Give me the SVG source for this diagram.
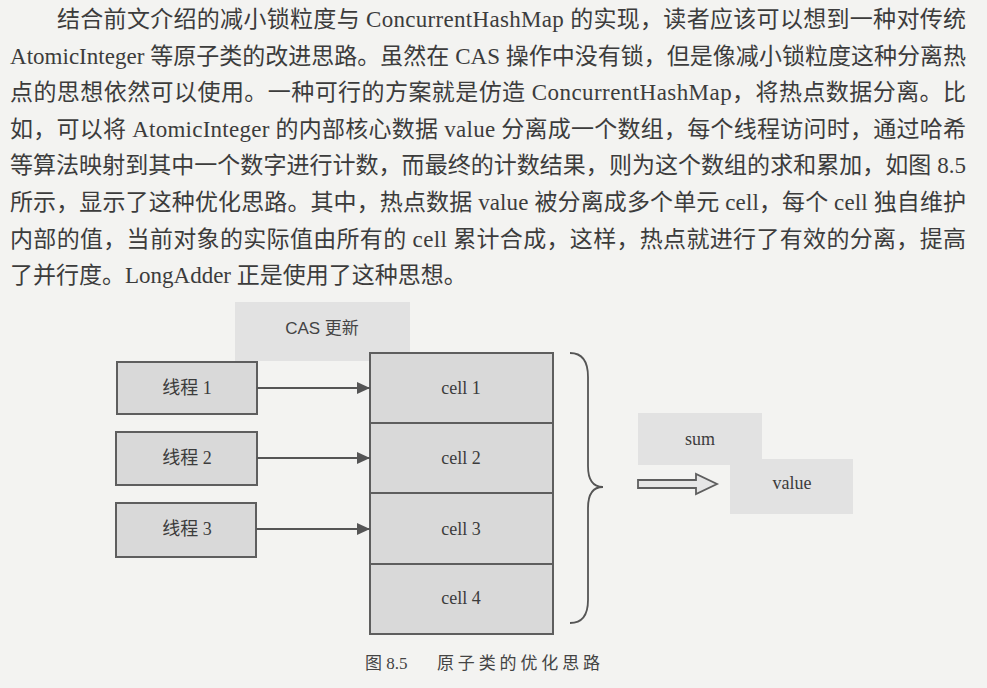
<svg xmlns="http://www.w3.org/2000/svg" width="987" height="688" viewBox="0 0 987 688">
<defs>
<style>
.para{font-family:"Liberation Serif","Noto Sans CJK SC",serif;font-size:23px;fill:#3c3c3c}
.lbl{font-family:"Liberation Serif","Noto Sans CJK SC",serif;font-size:18px;fill:#3c3c3c;text-anchor:middle}
.sans{font-family:"Liberation Sans","Noto Sans CJK SC",sans-serif;font-size:17px;fill:#444;text-anchor:middle}
.cap{font-family:"Liberation Serif","Noto Sans CJK SC",serif;font-size:17px;fill:#444}
.box{fill:#d9d9d9;stroke:#5e5e5e;stroke-width:2}
.soft{fill:#e2e2e2}
.conn{stroke:#555;stroke-width:1.8;fill:none}
</style>
<marker id="tri" viewBox="0 0 13 12" refX="13" refY="6" markerWidth="13" markerHeight="12" markerUnits="userSpaceOnUse" orient="auto">
<path d="M0,0 L13,6 L0,12 Z" fill="#555"/>
</marker>
</defs>
<rect x="0" y="0" width="987" height="688" fill="#f3f3f1"/>

<g id="paragraph">
<text class="para" x="57" y="27" textLength="909" lengthAdjust="spacing">结合前文介绍的减小锁粒度与 ConcurrentHashMap 的实现，读者应该可以想到一种对传统</text>
<text class="para" x="10" y="63.6" textLength="956" lengthAdjust="spacing">AtomicInteger 等原子类的改进思路。虽然在 CAS 操作中没有锁，但是像减小锁粒度这种分离热</text>
<text class="para" x="10" y="100.2" textLength="956" lengthAdjust="spacing">点的思想依然可以使用。一种可行的方案就是仿造 ConcurrentHashMap，将热点数据分离。比</text>
<text class="para" x="10" y="136.8" textLength="956" lengthAdjust="spacing">如，可以将 AtomicInteger 的内部核心数据 value 分离成一个数组，每个线程访问时，通过哈希</text>
<text class="para" x="10" y="173.4" textLength="956" lengthAdjust="spacing">等算法映射到其中一个数字进行计数，而最终的计数结果，则为这个数组的求和累加，如图 8.5</text>
<text class="para" x="10" y="210" textLength="956" lengthAdjust="spacing">所示，显示了这种优化思路。其中，热点数据 value 被分离成多个单元 cell，每个 cell 独自维护</text>
<text class="para" x="10" y="246.6" textLength="956" lengthAdjust="spacing">内部的值，当前对象的实际值由所有的 cell 累计合成，这样，热点就进行了有效的分离，提高</text>
<text class="para" x="10" y="283.2">了并行度。LongAdder 正是使用了这种思想。</text>
</g>

<g id="cas-label">
<rect class="soft" x="235" y="302" width="175" height="59"/>
<text class="sans" x="322" y="334">CAS 更新</text>
</g>

<g id="thread1">
<rect class="box" x="117" y="362" width="140" height="52"/>
<text class="lbl" x="187" y="394">线程 1</text>
</g>
<g id="thread2">
<rect class="box" x="116" y="432" width="141" height="53"/>
<text class="lbl" x="187" y="464">线程 2</text>
</g>
<g id="thread3">
<rect class="box" x="116" y="503" width="140" height="54"/>
<text class="lbl" x="187" y="535">线程 3</text>
</g>

<g id="cell1">
<rect class="box" x="370" y="353" width="183" height="70"/>
<text class="lbl" x="461" y="394">cell 1</text>
</g>
<g id="cell2">
<rect class="box" x="370" y="423" width="183" height="70"/>
<text class="lbl" x="461" y="464">cell 2</text>
</g>
<g id="cell3">
<rect class="box" x="370" y="493" width="183" height="71"/>
<text class="lbl" x="461" y="535">cell 3</text>
</g>
<g id="cell4">
<rect class="box" x="370" y="564" width="183" height="70"/>
<text class="lbl" x="461" y="604">cell 4</text>
</g>

<g id="value">
<rect class="soft" x="730" y="459" width="123" height="55"/>
<text class="lbl" x="792" y="489">value</text>
</g>
<g id="sum">
<rect class="soft" x="638" y="413" width="124" height="52"/>
<text class="lbl" x="700" y="445">sum</text>
</g>

<g id="connectors">
<line class="conn" x1="257" y1="388" x2="370" y2="388" marker-end="url(#tri)"/>
<line class="conn" x1="257" y1="458" x2="370" y2="458" marker-end="url(#tri)"/>
<line class="conn" x1="256" y1="529" x2="370" y2="529" marker-end="url(#tri)"/>
<path class="conn" d="M570,353 Q588,353 588,377 L588,466 Q588,487 603,487 Q588,487 588,508 L588,600 Q588,623 570,623"/>
<polygon points="638,480 696,480 696,474 717,484 696,494 696,488 638,488" fill="#e6e6e6" stroke="#5e5e5e" stroke-width="1.8"/>
</g>

<g id="caption">
<text class="cap" x="365" y="669">图 8.5</text>
<text class="cap" x="437" y="669" textLength="163" lengthAdjust="spacing">原子类的优化思路</text>
</g>
</svg>
